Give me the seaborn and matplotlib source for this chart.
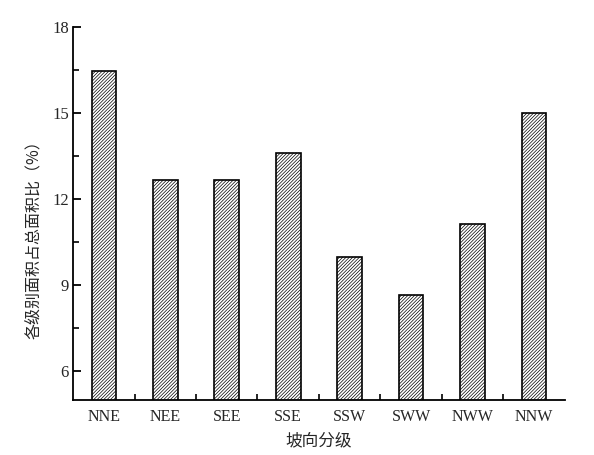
import numpy as np
import pandas as pd
import seaborn as sns
import matplotlib.pyplot as plt
from matplotlib.ticker import MultipleLocator, FixedLocator

# Data
categories = ['NNE', 'NEE', 'SEE', 'SSE', 'SSW', 'SWW', 'NWW', 'NNW']
values = [16.46, 12.68, 12.66, 13.60, 9.98, 8.65, 11.13, 15.0]
y_ticks = [6, 9, 12, 15, 18]

sns.set_style('ticks')
plt.rcParams['font.family'] = ['Liberation Serif', 'Noto Sans CJK SC']
plt.rcParams['hatch.linewidth'] = 0.5

df = pd.DataFrame({'aspect': categories, 'ratio': values})

fig = plt.figure(figsize=(5.94, 4.55), dpi=100)
ax = fig.add_axes([0.123, 0.1215, 0.828, 0.819])

sns.barplot(data=df, x='aspect', y='ratio', ax=ax, color='white',
            edgecolor='black', linewidth=1.2, width=0.4, hatch='//////////')

ax.set_ylim(5, 18)
ax.set_xlim(-0.5, 7.5)
ax.set_yticks(y_ticks)
ax.yaxis.set_minor_locator(MultipleLocator(1.5))
ax.xaxis.set_minor_locator(FixedLocator(np.arange(0.5, 7.5, 1)))
ax.tick_params(axis='y', which='major', direction='in', length=6, width=1.3,
               color='black', labelsize=12, pad=3)
ax.tick_params(axis='y', which='minor', direction='in', length=4, width=1.2,
               color='black')
ax.tick_params(axis='x', which='major', length=0, labelsize=11.5, pad=7)
ax.tick_params(axis='x', which='minor', direction='in', length=4, width=1.2,
               color='black')

for side in ['top', 'right']:
    ax.spines[side].set_visible(False)
for side in ['left', 'bottom']:
    ax.spines[side].set_linewidth(1.3)
    ax.spines[side].set_color('black')

ax.set_xlabel('坡向分级', fontsize=12, family=['Noto Sans CJK SC'], labelpad=5)
ax.set_ylabel('各级别面积占总面积比（%）', fontsize=11.5, family=['Noto Sans CJK SC'])
ax.yaxis.set_label_coords(-0.064, 0.44)

fig.savefig('out.png', dpi=100)
